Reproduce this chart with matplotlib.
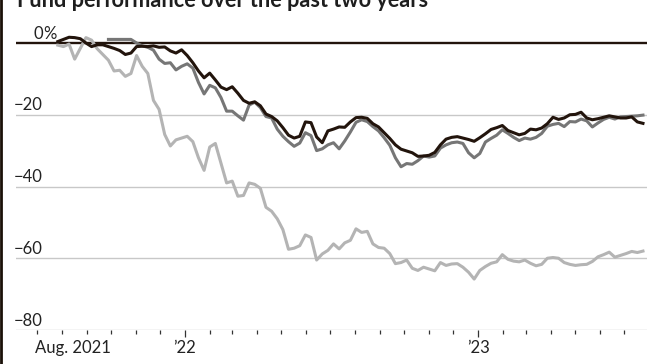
import matplotlib
matplotlib.use("Agg")
import matplotlib.pyplot as plt
import matplotlib.dates as mdates
from matplotlib.lines import Line2D
import numpy as np
import pandas as pd

# weekly closes, % change since the start of the period
weeks = pd.date_range("2021-07-27", periods=105, freq="7D")

black_fund = [
    0.4, 1.0, 1.6, 1.5, 1.2, 0.0, -1.0, -0.5, -0.5, -1.0,
    -1.5, -2.1, -3.2, -2.8, -1.0, -0.9, -1.0, -0.8, -1.2, -1.1,
    -2.2, -2.8, -1.9, -3.5, -5.5, -7.8, -9.7, -8.4, -10.3, -12.3,
    -13.0, -12.2, -14.0, -16.0, -16.8, -16.4, -17.5, -19.8, -20.5, -21.7,
    -23.6, -25.7, -26.5, -26.0, -22.0, -22.2, -26.2, -27.8, -24.5, -24.0,
    -23.4, -23.5, -22.0, -20.8, -20.7, -21.0, -22.5, -23.4, -25.0, -26.6,
    -28.4, -29.6, -30.1, -30.6, -31.6, -31.5, -31.3, -30.5, -28.4, -26.8,
    -26.3, -26.1, -26.5, -26.9, -27.4, -26.4, -25.3, -24.1, -23.6, -23.0,
    -24.4, -25.0, -25.6, -25.2, -24.0, -24.2, -23.7, -22.5, -20.7, -21.3,
    -20.9, -20.0, -19.9, -19.3, -20.9, -21.4, -21.1, -20.7, -20.3, -20.6,
    -20.9, -20.9, -20.6, -22.0, -22.4,
]

medium_fund = [np.nan] * 9 + [
    1.0,
    1.0, 1.0, 1.0, 1.0, 0.0, -0.8, -1.2, -2.0, -4.5, -5.7,
    -5.5, -7.5, -6.5, -5.8, -7.0, -11.0, -14.2, -11.8, -12.5, -15.2,
    -19.0, -19.0, -20.3, -21.5, -17.3, -16.5, -18.0, -20.5, -20.9, -24.0,
    -26.0, -27.5, -28.8, -27.9, -25.0, -25.8, -30.0, -29.5, -28.4, -27.8,
    -29.5, -27.3, -24.8, -22.1, -21.4, -21.9, -23.3, -24.5, -26.4, -28.5,
    -32.0, -34.5, -33.6, -33.8, -32.8, -31.5, -31.8, -31.5, -29.3, -28.4,
    -27.8, -27.6, -28.0, -30.6, -32.0, -30.8, -27.6, -26.6, -25.7, -24.2,
    -25.2, -26.3, -27.2, -26.5, -26.8, -26.3, -25.2, -23.2, -22.7, -22.4,
    -23.3, -21.9, -22.0, -21.2, -21.7, -23.4, -22.3, -21.3, -20.7, -21.2,
    -20.6, -20.5, -20.4, -20.3, -20.1,
]

light_fund = [
    -0.6, -1.0, -0.3, -4.5, -1.5, 1.5, 0.8, -1.6, -3.2, -4.8,
    -7.8, -7.6, -9.3, -8.5, -3.5, -6.5, -8.5, -16.0, -18.5, -25.5,
    -28.7, -27.0, -26.5, -26.0, -27.5, -32.0, -35.5, -29.0, -28.0, -33.5,
    -39.0, -38.5, -42.7, -42.5, -39.0, -39.4, -40.5, -45.8, -46.9, -49.0,
    -52.0, -57.5, -57.2, -56.5, -53.5, -54.2, -60.5, -58.8, -57.8, -56.0,
    -57.4, -55.7, -55.0, -51.8, -52.8, -52.5, -56.0, -57.0, -57.2, -58.7,
    -61.5, -61.2, -60.5, -62.8, -63.4, -62.5, -63.0, -63.5, -61.2, -62.0,
    -61.6, -61.5, -62.5, -63.9, -65.8, -63.4, -62.3, -61.4, -61.0, -59.0,
    -60.3, -60.8, -61.0, -60.5, -61.4, -62.1, -61.7, -60.0, -59.8, -60.0,
    -61.2, -61.7, -62.0, -61.8, -61.7, -60.9, -59.6, -59.0, -58.3, -59.7,
    -59.2, -58.7, -58.1, -58.4, -58.0,
]

y_ticks = [0, -20, -40, -60, -80]
y_labels = ["0", "\u221220", "\u221240", "\u221260", "\u221280"]
x_major = ["2022-01-01", "2023-01-01"]
x_major_labels = ["\u201922", "\u201923"]
first_label = "Aug. 2021"
title = "Fund performance over the past two years"

plt.rcParams["font.family"] = ["Lato", "DejaVu Sans"]
text_color = "#222222"
dark = "#22140c"

W, H = 647, 364
fig = plt.figure(figsize=(W / 100, H / 100), dpi=100)
ax = fig.add_axes([16 / W, 1 - 330 / H, 631 / W, (330 - 14.3) / H])

for v in y_ticks[1:]:
    ax.axhline(v, color="#c8c8c8", lw=1.0, zorder=1)
ax.axhline(0, color=dark, lw=1.7, zorder=2)

ax.plot(weeks, light_fund, color="#b4b4b4", lw=2.2, zorder=3, clip_on=False)
ax.plot(weeks, medium_fund, color="#767676", lw=2.2, zorder=4, clip_on=False)
ax.plot(weeks, black_fund, color=dark, lw=2.2, zorder=5, clip_on=False)

ax.set_ylim(-80, 8)
ax.set_xlim(pd.Timestamp("2021-06-05"), pd.Timestamp("2023-07-30"))

for s in ax.spines.values():
    s.set_visible(False)
ax.set_yticks([])

ax.set_xticks(pd.to_datetime(x_major))
ax.set_xticklabels(x_major_labels)
ax.xaxis.set_minor_locator(mdates.MonthLocator())
ax.tick_params(axis="x", which="major", length=5, width=0.9, color="#333333",
               pad=2.5, labelsize=12, labelcolor=text_color)
ax.tick_params(axis="x", which="minor", length=2.8, width=0.9, color="#333333")

ax.annotate(first_label, xy=(mdates.date2num(pd.Timestamp("2021-08-15")), 0),
            xycoords=ax.get_xaxis_transform(), xytext=(0, -7.5),
            textcoords="offset points", ha="center", va="top",
            fontsize=12, color=text_color)

lab_x = 27 / 631
for v, lab in zip(y_ticks, y_labels):
    ax.annotate(lab, xy=(lab_x, v), xycoords=ax.get_yaxis_transform(),
                xytext=(0, 3.2), textcoords="offset points",
                ha="right", va="baseline", fontsize=12, color=text_color)
ax.annotate("%", xy=(lab_x, 0), xycoords=ax.get_yaxis_transform(),
            xytext=(0, 3.2), textcoords="offset points",
            ha="left", va="baseline", fontsize=12, color=text_color)

fig.text(17 / W, 1 - 7 / H, title, fontsize=15.6, fontweight="bold",
         color="#1e1e1e", ha="left", va="baseline")

fig.add_artist(Line2D([1.3 / W, 1.3 / W], [0, 1], color="#1a1008", lw=2.0))

fig.savefig("out.png", dpi=100)
